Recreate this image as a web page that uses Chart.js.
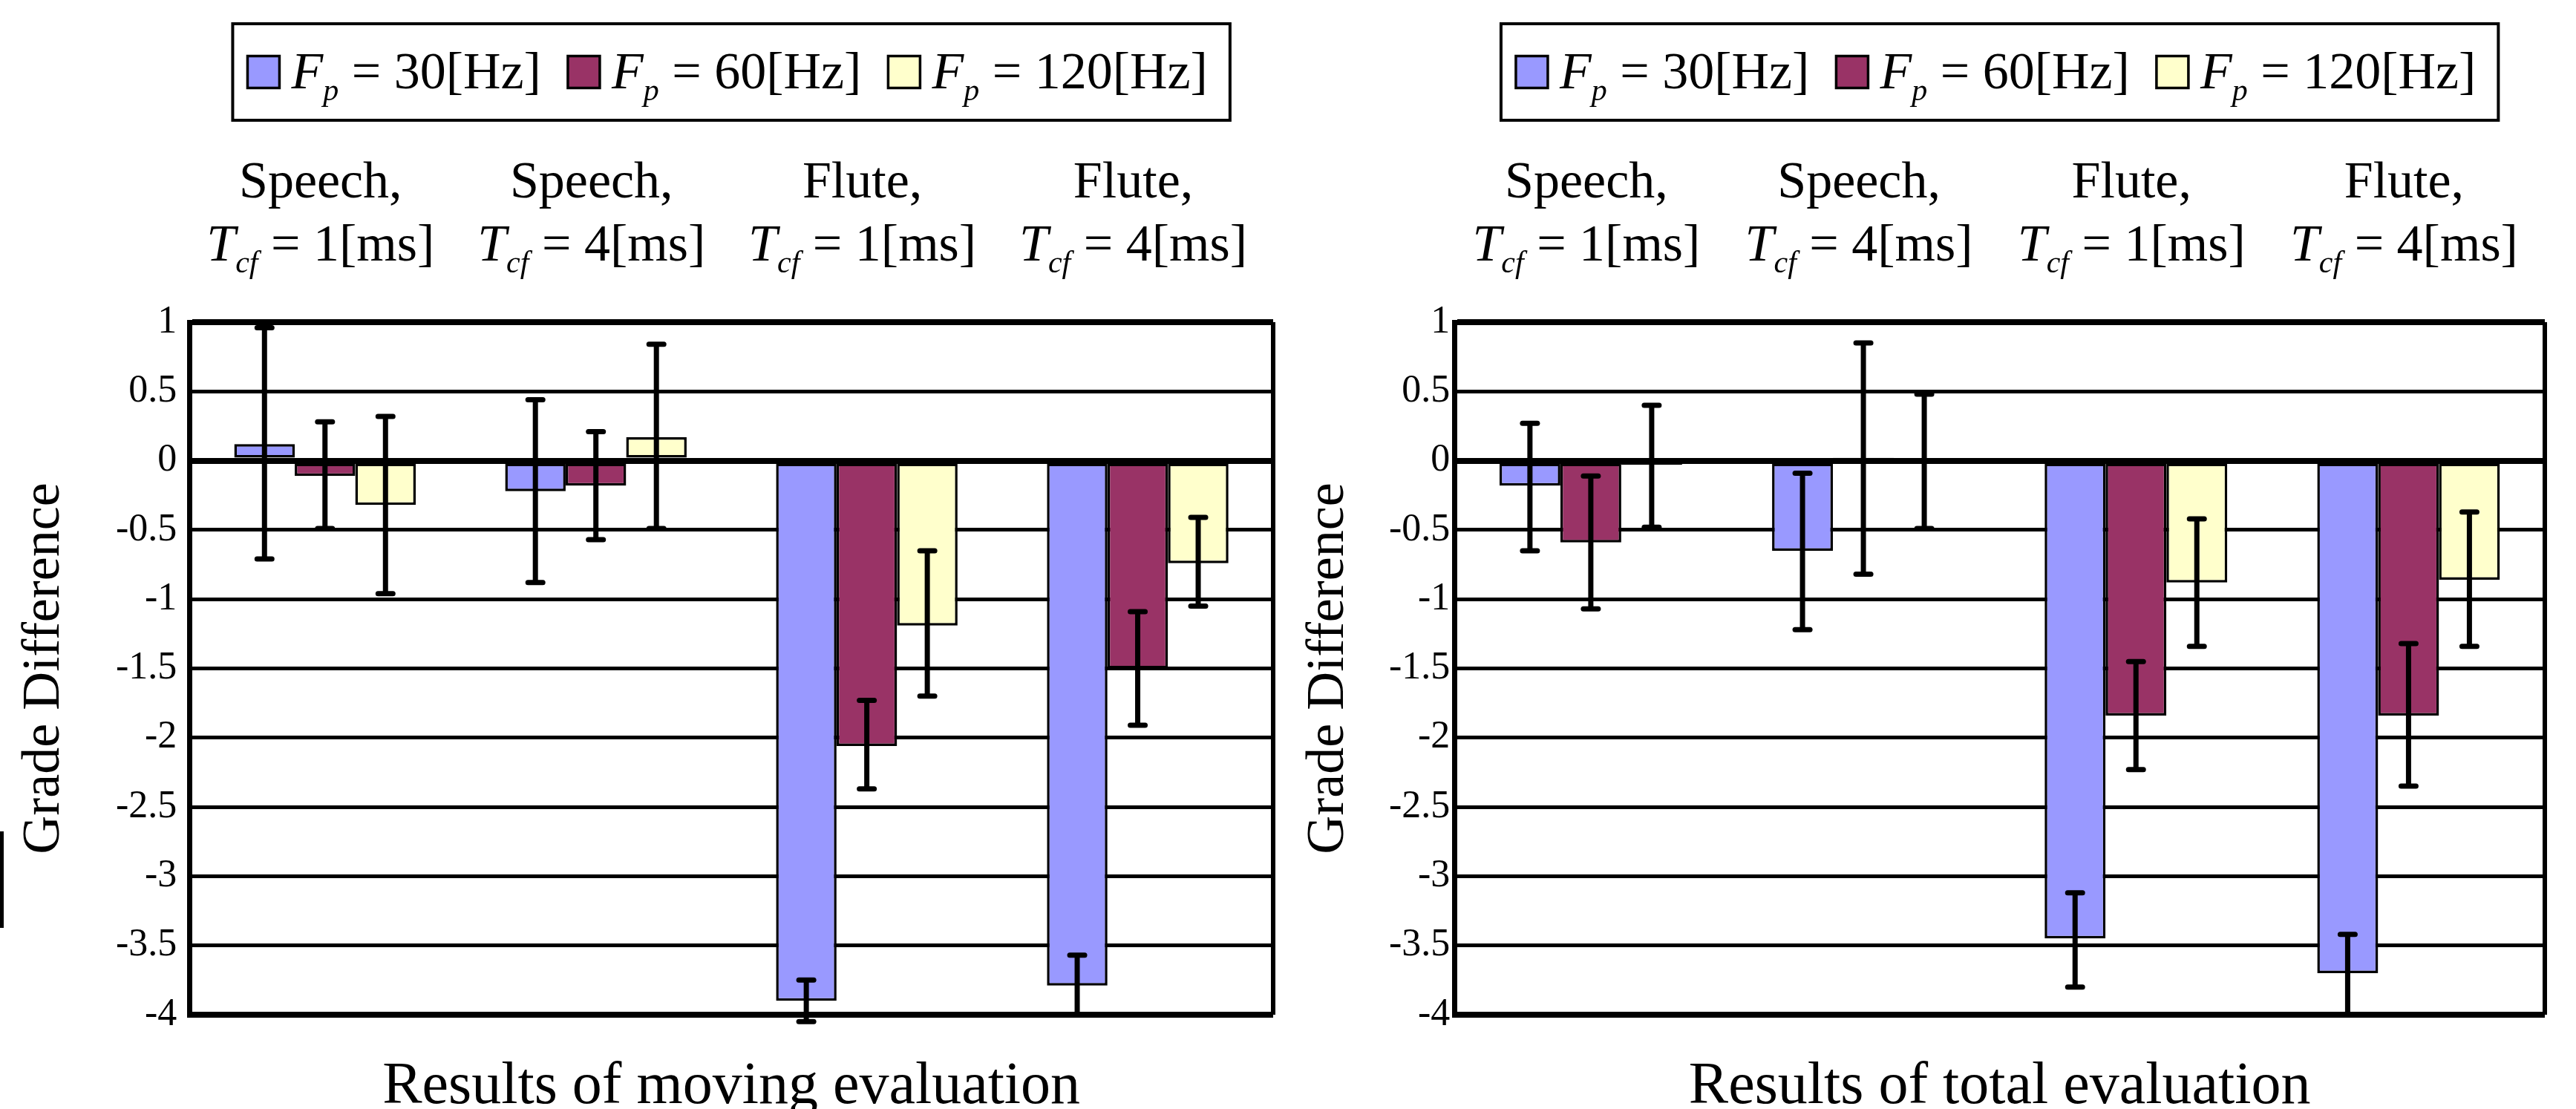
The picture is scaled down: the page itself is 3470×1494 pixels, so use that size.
<!DOCTYPE html>
<html>
<head>
<meta charset="utf-8">
<script src="https://cdn.jsdelivr.net/npm/chart.js@4.4.1/dist/chart.umd.min.js"></script>
<style>
  html, body { margin: 0; padding: 0; background: #fff; overflow: hidden; }
  #wrap { position: relative; width: 3470px; height: 1494px; background: #fff; }
  .box { position: absolute; top: 0; height: 1494px; }
  .edge { position: absolute; background: #000; }
</style>
</head>
<body>
<div id="wrap">
  <div class="box" style="left:0;width:1735px"><canvas id="movingChart"></canvas></div>
  <div class="box" style="left:1730px;width:1740px"><canvas id="totalChart"></canvas></div>
  <div class="edge" style="left:0;top:1120px;width:5px;height:130px"></div>
</div>
<script>
// categories (sound source, T_cf in ms) and F_p values in Hz
const sources = ['Speech,', 'Speech,', 'Flute,', 'Flute,'];
const tcfValues = ['1', '4', '1', '4'];
const fpValues = ['30', '60', '120'];
const barColors = ['#9999FF', '#993366', '#FFFFCC'];

// y axis
const yMin = -4;
const yMax = 1;
const yStep = 0.5;

// results of moving evaluation
const moving30 = [0.12, -0.22, -3.90, -3.79];
const moving60 = [-0.11, -0.18, -2.06, -1.50];
const moving120 = [-0.32, 0.17, -1.19, -0.74];
const movingHigh30 = [0.96, 0.44, -3.75, -3.57];
const movingHigh60 = [0.28, 0.21, -1.73, -1.09];
const movingHigh120 = [0.32, 0.84, -0.65, -0.41];
const movingLow30 = [-0.71, -0.88, -4.05, -4.00];
const movingLow60 = [-0.49, -0.57, -2.37, -1.91];
const movingLow120 = [-0.96, -0.49, -1.70, -1.05];

// results of total evaluation
const total30 = [-0.18, -0.65, -3.45, -3.70];
const total60 = [-0.59, 0.02, -1.84, -1.84];
const total120 = [-0.03, 0.00, -0.88, -0.86];
const totalHigh30 = [0.27, -0.09, -3.12, -3.42];
const totalHigh60 = [-0.11, 0.85, -1.45, -1.32];
const totalHigh120 = [0.40, 0.48, -0.42, -0.37];
const totalLow30 = [-0.65, -1.22, -3.80, -4.00];
const totalLow60 = [-1.07, -0.82, -2.23, -2.35];
const totalLow120 = [-0.48, -0.49, -1.34, -1.34];

const FONT = '"Liberation Serif", "Times New Roman", serif';

function fontOf(p) {
    return (p.italic ? 'italic ' : '') + p.size + 'px ' + FONT;
}

function richWidth(ctx, parts) {
    let w = 0;
    parts.forEach(p => {
        ctx.font = fontOf(p);
        w += ctx.measureText(p.text).width;
    });
    return w;
}

// draws text made of pieces (italic / subscript), starting at x
function drawRich(ctx, parts, x, baseline) {
    ctx.textAlign = 'left';
    ctx.textBaseline = 'alphabetic';
    parts.forEach(p => {
        ctx.font = fontOf(p);
        ctx.fillText(p.text, x, baseline + (p.sub ? 16 : 0));
        x += ctx.measureText(p.text).width;
    });
}

function fpParts(fp) {
    return [
        { text: 'F', size: 70, italic: true },
        { text: 'p', size: 42, italic: true, sub: true },
        { text: ' = ' + fp + '[Hz]', size: 70 }
    ];
}

function tcfParts(tcf) {
    return [
        { text: 'T', size: 70, italic: true },
        { text: 'cf', size: 42, italic: true, sub: true },
        { text: ' = ' + tcf + '[ms]', size: 70 }
    ];
}

const figurePlugin = {
    id: 'figure',
    afterDatasetsDraw(chart) {
        const ctx = chart.ctx;
        const area = chart.chartArea;
        const y = chart.scales.y;
        const errs = chart.options.plugins.figure;

        ctx.save();
        ctx.strokeStyle = '#000';

        // right edge of the plot
        ctx.lineWidth = 6;
        ctx.beginPath();
        ctx.moveTo(area.right, area.top);
        ctx.lineTo(area.right, area.bottom);
        ctx.stroke();

        // error bars
        chart.data.datasets.forEach((ds, i) => {
            const meta = chart.getDatasetMeta(i);
            meta.data.forEach((bar, j) => {
                const yHi = y.getPixelForValue(errs.high[i][j]);
                const yLo = y.getPixelForValue(errs.low[i][j]);
                ctx.lineWidth = 7;
                ctx.lineCap = 'butt';
                ctx.beginPath();
                ctx.moveTo(bar.x, yHi);
                ctx.lineTo(bar.x, yLo);
                ctx.stroke();
                ctx.lineCap = 'round';
                [yHi, yLo].forEach(cy => {
                    ctx.beginPath();
                    ctx.moveTo(bar.x - 10, cy);
                    ctx.lineTo(bar.x + 10, cy);
                    ctx.stroke();
                });
            });
        });
        ctx.restore();
    },
    afterDraw(chart) {
        const ctx = chart.ctx;
        const area = chart.chartArea;
        const x = chart.scales.x;
        ctx.save();
        ctx.fillStyle = '#000';

        // category labels above the plot
        sources.forEach((src, i) => {
            const cx = x.getPixelForValue(i) - 6;
            ctx.font = '70px ' + FONT;
            ctx.textAlign = 'center';
            ctx.textBaseline = 'alphabetic';
            ctx.fillText(src, cx, area.top - 168);
            const parts = tcfParts(tcfValues[i]);
            drawRich(ctx, parts, cx - richWidth(ctx, parts) / 2, area.top - 83);
        });

        // legend box
        const padL = 20, padR = 30, sw = 43, gapSw = 16, gapItem = 36;
        const widths = fpValues.map(fp => richWidth(ctx, fpParts(fp)));
        const total = padL + padR + widths.reduce((a, b) => a + b, 0) +
            fpValues.length * (sw + gapSw) + (fpValues.length - 1) * gapItem;
        const top = 32, h = 130;
        let lx = (area.left + area.right) / 2 - total / 2;
        ctx.lineWidth = 4;
        ctx.strokeStyle = '#000';
        ctx.strokeRect(lx, top, total, h);

        let ix = lx + padL;
        fpValues.forEach((fp, i) => {
            ctx.fillStyle = barColors[i];
            ctx.fillRect(ix, top + h / 2 - sw / 2, sw, sw);
            ctx.lineWidth = 3.5;
            ctx.strokeRect(ix, top + h / 2 - sw / 2, sw, sw);
            ix += sw + gapSw;
            ctx.fillStyle = '#000';
            drawRich(ctx, fpParts(fp), ix, 119);
            ix += widths[i] + gapItem;
        });
        ctx.restore();
    }
};

function makeChart(id, title, values, high, low, tune) {
    const ctx = document.getElementById(id).getContext('2d');
    return new Chart(ctx, {
        type: 'bar',
        data: {
            labels: sources.map((s, i) => s + ' Tcf = ' + tcfValues[i] + '[ms]'),
            datasets: fpValues.map((fp, i) => ({
                label: 'Fp = ' + fp + '[Hz]',
                data: values[i],
                backgroundColor: barColors[i],
                borderColor: '#000',
                borderWidth: 3.5,
                borderSkipped: false,
                categoryPercentage: 0.67,
                barPercentage: 1.0
            }))
        },
        options: {
            responsive: true,
            maintainAspectRatio: false,
            animation: false,
            events: [],
            layout: {
                padding: { top: 434, left: 0, right: tune.padRight, bottom: 0 }
            },
            scales: {
                x: {
                    grid: { display: false },
                    border: { display: false },
                    ticks: { display: false },
                    title: {
                        display: true,
                        text: title,
                        color: '#000',
                        font: { family: FONT, size: 80, lineHeight: 1 },
                        padding: { top: 50, bottom: -11 }
                    }
                },
                y: {
                    min: yMin,
                    max: yMax,
                    ticks: {
                        stepSize: yStep,
                        color: '#000',
                        padding: tune.tickPad,
                        font: { family: FONT, size: 52 },
                        callback: v => String(v)
                    },
                    grid: {
                        color: '#000',
                        drawTicks: false,
                        lineWidth: c => (c.tick && [yMax, 0, yMin].includes(c.tick.value)) ? 8 : 5
                    },
                    border: { display: true, color: '#000', width: 7 },
                    title: {
                        display: true,
                        text: 'Grade Difference',
                        color: '#000',
                        font: { family: FONT, size: 72, lineHeight: 1 },
                        padding: { top: 24, bottom: tune.titleGap }
                    }
                }
            },
            plugins: {
                legend: { display: false },
                tooltip: { enabled: false },
                figure: { high: high, low: low }
            }
        },
        plugins: [figurePlugin]
    });
}

makeChart('movingChart', 'Results of moving evaluation',
    [moving30, moving60, moving120],
    [movingHigh30, movingHigh60, movingHigh120],
    [movingLow30, movingLow60, movingLow120],
    { padRight: 20, tickPad: 17, titleGap: 43 });

makeChart('totalChart', 'Results of total evaluation',
    [total30, total60, total120],
    [totalHigh30, totalHigh60, totalHigh120],
    [totalLow30, totalLow60, totalLow120],
    { padRight: 42, tickPad: 6, titleGap: 39 });
</script>
</body>
</html>
